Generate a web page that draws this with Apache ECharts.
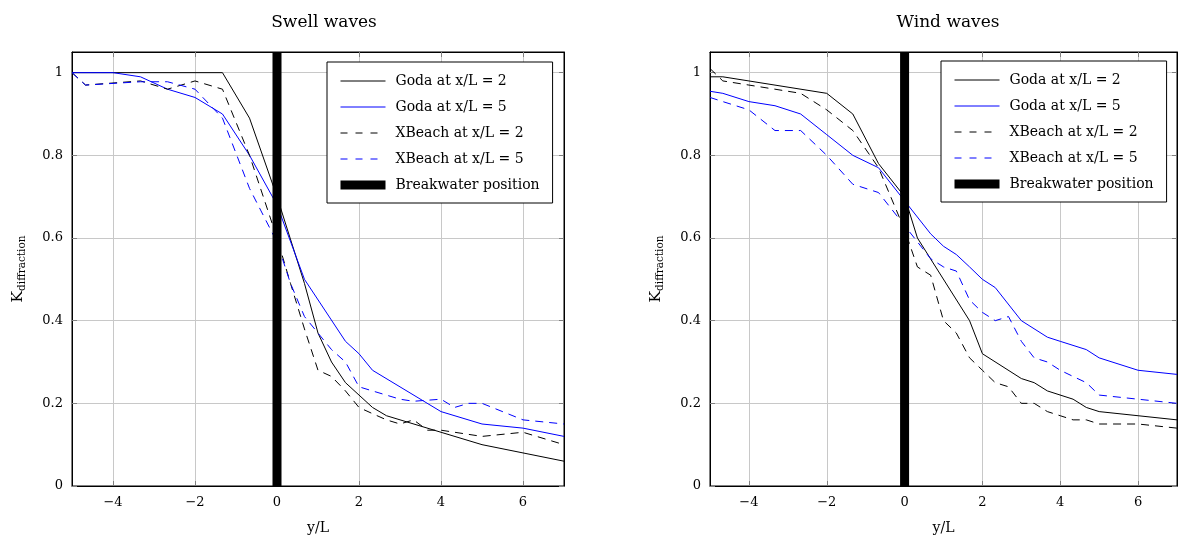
<!DOCTYPE html>
<html><head><meta charset="utf-8">
<script src="https://cdn.jsdelivr.net/npm/echarts@6/dist/echarts.min.js"></script>
<style>html,body{margin:0;padding:0;background:#fff}#c{width:1178px;height:541px}</style>
</head><body><div id="c"></div>
<script>
const xTicks = [-4, -2, 0, 2, 4, 6];
const yTicks = [0, 0.2, 0.4, 0.6, 0.8, 1];
const seriesNames = ['Goda at x/L = 2', 'Goda at x/L = 5', 'XBeach at x/L = 2', 'XBeach at x/L = 5', 'Breakwater position'];
const panelTitles = ['Swell waves', 'Wind waves'];
const xName = 'y/L';

// Swell waves
const swellGoda2X = [-5, -1.33, -0.67, 0, 0.67, 1, 1.33, 1.67, 2, 2.33, 2.67, 4, 5, 7];
const swellGoda2Y = [1, 1, 0.89, 0.70, 0.49, 0.37, 0.30, 0.25, 0.22, 0.19, 0.17, 0.13, 0.10, 0.06];
const swellGoda5X = [-5, -4, -3.33, -2.67, -2, -1.33, -0.67, 0, 0.67, 1.67, 2, 2.33, 4, 5, 6, 7];
const swellGoda5Y = [1, 1, 0.99, 0.96, 0.94, 0.90, 0.80, 0.68, 0.50, 0.35, 0.32, 0.28, 0.18, 0.15, 0.14, 0.12];
const swellXb2X = [-5, -4.67, -3.33, -2.67, -2, -1.33, -0.67, 0, 0.33, 0.67, 1, 1.33, 1.67, 2, 2.33, 2.67, 3, 3.33, 3.67, 4, 5, 6, 7];
const swellXb2Y = [1, 0.97, 0.98, 0.96, 0.98, 0.96, 0.80, 0.60, 0.49, 0.38, 0.28, 0.265, 0.23, 0.19, 0.175, 0.16, 0.15, 0.16, 0.135, 0.135, 0.12, 0.13, 0.10];
const swellXb5X = [-5, -4.67, -4, -3.33, -2.67, -2, -1.33, -0.67, 0, 0.33, 0.67, 1, 1.33, 1.67, 2, 2.33, 3, 3.33, 4, 4.33, 4.67, 5, 6, 7];
const swellXb5Y = [1, 0.97, 0.974, 0.978, 0.978, 0.96, 0.89, 0.72, 0.59, 0.49, 0.41, 0.37, 0.33, 0.30, 0.24, 0.23, 0.21, 0.205, 0.21, 0.19, 0.20, 0.20, 0.16, 0.15];

// Wind waves
const windGoda2X = [-5, -4.67, -2, -1.33, -0.67, 0, 0.33, 1.67, 2, 3, 3.33, 3.67, 4.33, 4.67, 5, 6, 7];
const windGoda2Y = [0.99, 0.99, 0.95, 0.90, 0.78, 0.70, 0.60, 0.40, 0.32, 0.26, 0.25, 0.23, 0.21, 0.19, 0.18, 0.17, 0.16];
const windGoda5X = [-5, -4.67, -4, -3.33, -2.67, -2, -1.33, -0.67, 0, 0.67, 1, 1.33, 1.67, 2, 2.33, 3, 3.67, 4, 4.67, 5, 6, 7];
const windGoda5Y = [0.955, 0.95, 0.93, 0.92, 0.90, 0.85, 0.80, 0.77, 0.69, 0.61, 0.58, 0.56, 0.53, 0.50, 0.48, 0.40, 0.36, 0.35, 0.33, 0.31, 0.28, 0.27];
const windXb2X = [-5, -4.67, -4, -3.33, -2.67, -2, -1.33, -0.67, 0, 0.33, 0.67, 1, 1.33, 1.67, 2, 2.33, 2.67, 3, 3.33, 3.67, 4, 4.33, 4.67, 5, 6, 7];
const windXb2Y = [1.01, 0.98, 0.97, 0.96, 0.95, 0.91, 0.86, 0.77, 0.62, 0.53, 0.51, 0.40, 0.37, 0.31, 0.28, 0.25, 0.24, 0.20, 0.20, 0.18, 0.17, 0.16, 0.16, 0.15, 0.15, 0.14];
const windXb5X = [-5, -4.67, -4, -3.33, -2.67, -2, -1.33, -0.67, 0, 0.67, 1, 1.33, 1.67, 2, 2.33, 2.67, 3, 3.33, 3.67, 4, 4.33, 4.67, 5, 6, 7];
const windXb5Y = [0.94, 0.93, 0.91, 0.86, 0.86, 0.80, 0.73, 0.71, 0.63, 0.55, 0.53, 0.52, 0.45, 0.42, 0.40, 0.41, 0.35, 0.31, 0.30, 0.28, 0.265, 0.25, 0.22, 0.21, 0.20];

// Breakwater
const breakwaterX = [0, 0];
const breakwaterY = [0, 1.05];

const FONT = 'DejaVu Serif';
const pair = (xs, ys) => xs.map((x, i) => [x, ys[i]]);
const panels = [
  [pair(swellGoda2X, swellGoda2Y), pair(swellGoda5X, swellGoda5Y), pair(swellXb2X, swellXb2Y), pair(swellXb5X, swellXb5Y)],
  [pair(windGoda2X, windGoda2Y), pair(windGoda5X, windGoda5Y), pair(windXb2X, windXb2Y), pair(windXb5X, windXb5Y)]
];
const lineColors = ['#000000', '#0000ff', '#000000', '#0000ff'];
const lineTypes = ['solid', 'solid', [8, 6], [8, 6]];
const legendLineTypes = ['solid', 'solid', [7, 8], [7, 8]];

const grids = [
  {left: 72, top: 52, width: 492, height: 434},
  {left: 710, top: 52, width: 467, height: 434}
];
const legendPos = [{left: 327, top: 62}, {left: 941, top: 61}];
const titleCenters = [319, 943];

const option = {
  animation: false,
  backgroundColor: '#fff',
  title: panelTitles.map((t, i) => ({
    text: t, left: titleCenters[i], top: 9, textAlign: 'center',
    textStyle: {fontFamily: FONT, fontSize: 17, fontWeight: 'normal', color: '#000'}
  })),
  grid: grids.map(g => Object.assign({show: true, borderColor: '#000', borderWidth: 1, backgroundColor: 'transparent'}, g)),
  legend: legendPos.map(p => ({
    left: p.left, top: p.top, orient: 'vertical',
    itemWidth: 45, itemHeight: 9, itemGap: 10,
    padding: [11, 13, 10, 13],
    borderColor: '#000', borderWidth: 1, backgroundColor: '#fff',
    lineStyle: {width: 1},
    textStyle: {fontFamily: FONT, fontSize: 14, color: '#000', lineHeight: 16, padding: [0, 0, 0, 5]},
    data: seriesNames.map((n, k) => k === 4
      ? {name: n, icon: 'rect', itemStyle: {color: '#000', borderWidth: 0, opacity: 1}}
      : {name: n, itemStyle: {opacity: 0, borderWidth: 0},
         lineStyle: {width: 1, color: lineColors[k], type: legendLineTypes[k]}})
  })),
  xAxis: [],
  yAxis: [],
  series: []
};

grids.forEach((g, i) => {
  option.xAxis.push({
    gridIndex: i, type: 'value', min: -5, max: 7, position: 'bottom',
    axisLine: {show: true, onZero: false, lineStyle: {color: '#000', width: 1}},
    axisTick: {show: true, inside: true, length: 5, customValues: xTicks, lineStyle: {color: '#808080'}},
    axisLabel: {customValues: xTicks, margin: 10, fontFamily: FONT, fontSize: 13, color: '#000',
      formatter: v => v < 0 ? '\u2212' + Math.abs(v) : String(v)},
    splitLine: {show: true, lineStyle: {color: '#c8c8c8', width: 1}},
    name: xName, nameLocation: 'middle', nameGap: 35,
    nameTextStyle: {fontFamily: FONT, fontSize: 14, color: '#000'}
  });
  option.xAxis.push({
    gridIndex: i, type: 'value', min: -5, max: 7, position: 'top',
    axisLine: {show: true, onZero: false, lineStyle: {color: '#000', width: 1}},
    axisTick: {show: true, inside: true, length: 5, customValues: xTicks, lineStyle: {color: '#808080'}},
    axisLabel: {show: false},
    splitLine: {show: false}
  });
  option.yAxis.push({
    gridIndex: i, type: 'value', min: 0, max: 1.05, position: 'left',
    axisLine: {show: true, onZero: false, lineStyle: {color: '#000', width: 1}},
    axisTick: {show: true, inside: true, length: 5, customValues: yTicks, lineStyle: {color: '#808080'}},
    axisLabel: {customValues: yTicks, margin: 9, fontFamily: FONT, fontSize: 13, color: '#000'},
    splitLine: {show: true, lineStyle: {color: '#c8c8c8', width: 1}},
    name: '{k|K}{d|diffraction}', nameLocation: 'middle', nameRotate: 90, nameGap: 44,
    nameTextStyle: {fontFamily: FONT, color: '#000', rich: {
      k: {fontFamily: FONT, fontSize: 15.5, lineHeight: 18, verticalAlign: 'bottom', padding: [0, 0, 2, 0], color: '#000'},
      d: {fontFamily: FONT, fontSize: 10.5, lineHeight: 12, verticalAlign: 'bottom', color: '#000'}
    }}
  });
  option.yAxis.push({
    gridIndex: i, type: 'value', min: 0, max: 1.05, position: 'right',
    axisLine: {show: true, onZero: false, lineStyle: {color: '#000', width: 1}},
    axisTick: {show: true, inside: true, length: 5, customValues: yTicks, lineStyle: {color: '#808080'}},
    axisLabel: {show: false},
    splitLine: {show: false}
  });
  panels[i].forEach((data, k) => {
    option.series.push({
      name: seriesNames[k], type: 'line', xAxisIndex: 2 * i, yAxisIndex: 2 * i,
      data: data, symbol: 'none', showSymbol: false, z: 2,
      color: lineColors[k],
      lineStyle: {color: lineColors[k], width: 1, type: lineTypes[k]}
    });
  });
  option.series.push({
    name: seriesNames[4], type: 'line', xAxisIndex: 2 * i, yAxisIndex: 2 * i,
    data: pair(breakwaterX, breakwaterY), symbol: 'none', showSymbol: false, z: 4,
    color: '#000', lineStyle: {color: '#000', width: 9, cap: 'butt'}
  });
});

const chart = echarts.init(document.getElementById('c'), null, {renderer: 'canvas'});
chart.setOption(option);
</script>
</body></html>
